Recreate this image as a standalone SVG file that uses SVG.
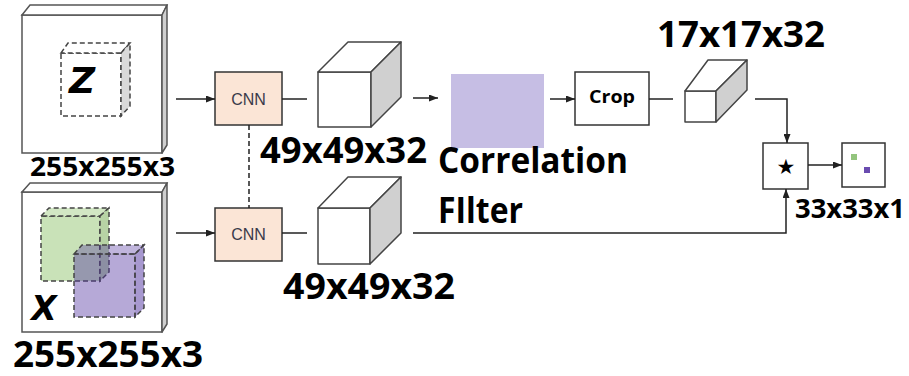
<svg xmlns="http://www.w3.org/2000/svg" width="909" height="376" viewBox="0 0 909 376">
  <style>
    .frame { fill: #ffffff; stroke: #555555; stroke-width: 1.5; }
    .frameSide { fill: #cfcfcf; stroke: #555555; stroke-width: 1.5; stroke-linejoin: round; }
    .dash { stroke: #444444; stroke-width: 1.5; stroke-dasharray: 5 3; }
    .cnn { fill: #fbe5d6; stroke: #333333; stroke-width: 1.5; }
    .box { fill: #ffffff; stroke: #333333; stroke-width: 1.5; }
    .cubeFront { fill: #ffffff; stroke: #444444; stroke-width: 1.5; stroke-linejoin: round; }
    .cubeSide { fill: #d0d0d0; stroke: #444444; stroke-width: 1.5; stroke-linejoin: round; }
    .conn { fill: none; stroke: #222222; stroke-width: 1.5; }
    .lbl { font-family: "Open Sans", "DejaVu Sans", sans-serif; font-weight: bold; fill: #000000; }
    .cnnTxt { font-family: "Liberation Sans", Arial, sans-serif; font-size: 16px; fill: #3a3a4a; text-anchor: middle; }
    .letter { font-family: "DejaVu Sans", "Liberation Sans", sans-serif; font-weight: bold; font-style: italic; fill: #000000; }
  </style>
  <defs>
    <marker id="arrow" markerUnits="userSpaceOnUse" markerWidth="9" markerHeight="7" refX="9" refY="3.5" orient="auto">
      <path d="M0,0 L9,3.5 L0,7 Z" fill="#222222"/>
    </marker>
  </defs>

  <!-- exemplar image z -->
  <g id="input-z">
    <rect class="frame" x="22" y="15" width="140" height="138"/>
    <polygon class="frame" points="22,15 30,5 167,5 162,15"/>
    <polygon class="frameSide" points="162,15 167,5 167,145 162,153"/>
    <rect x="61" y="53" width="60" height="63" fill="#ffffff" class="dash"/>
    <polygon points="61,53 68,43 130,43 121,53" fill="#ffffff" class="dash"/>
    <polygon points="121,53 130,43 130,106 121,116" fill="#d9d9d9" class="dash"/>
    <text class="letter" x="82" y="93" font-size="36" text-anchor="middle">Z</text>
    <text class="lbl" x="30" y="176" font-size="26" textLength="145" lengthAdjust="spacingAndGlyphs">255x255x3</text>
  </g>

  <!-- search image x -->
  <g id="input-x">
    <rect class="frame" x="22" y="192" width="140" height="140"/>
    <polygon class="frame" points="22,192 30,183 167,183 162,192"/>
    <polygon class="frameSide" points="162,192 167,183 167,324 162,332"/>
    <!-- green window -->
    <rect x="41" y="216" width="59" height="65" fill="#c9e2b8" class="dash"/>
    <polygon points="41,216 49,208 109,208 100,216" fill="#d2e7c4" class="dash"/>
    <polygon points="100,216 109,208 109,272 100,281" fill="#b7d3a5" class="dash"/>
    <!-- purple window -->
    <rect x="74" y="254" width="61" height="63" fill="#50329f" fill-opacity="0.42" class="dash"/>
    <polygon points="74,254 82,245 144,245 135,254" fill="#50329f" fill-opacity="0.36" class="dash"/>
    <polygon points="135,254 144,245 144,308 135,317" fill="#50329f" fill-opacity="0.5" class="dash"/>
    <text class="letter" x="44" y="320" font-size="33" text-anchor="middle">X</text>
    <text class="lbl" x="13" y="367" font-size="35" textLength="190" lengthAdjust="spacingAndGlyphs">255x255x3</text>
  </g>

  <!-- shared backbone -->
  <g id="cnn-top">
    <rect class="cnn" x="215" y="72" width="67" height="53"/>
    <text class="cnnTxt" x="248.5" y="105">CNN</text>
  </g>
  <g id="cnn-bottom">
    <rect class="cnn" x="215" y="208" width="67" height="53"/>
    <text class="cnnTxt" x="248.5" y="240">CNN</text>
  </g>

  <!-- feature maps -->
  <g id="feat-z">
    <rect class="cubeFront" x="318" y="72" width="53" height="55"/>
    <polygon class="cubeFront" points="318,72 348,42 401,42 371,72"/>
    <polygon class="cubeSide" points="371,72 401,42 401,97 371,127"/>
    <text class="lbl" x="260" y="163" font-size="35" textLength="167" lengthAdjust="spacingAndGlyphs">49x49x32</text>
  </g>
  <g id="feat-x">
    <rect class="cubeFront" x="318" y="208" width="52" height="56"/>
    <polygon class="cubeFront" points="318,208 348,177 401,177 370,208"/>
    <polygon class="cubeSide" points="370,208 401,177 401,233 370,264"/>
    <text class="lbl" x="283" y="299" font-size="35" textLength="172" lengthAdjust="spacingAndGlyphs">49x49x32</text>
  </g>

  <!-- correlation filter -->
  <g id="corr-filter">
    <rect x="451" y="74" width="93" height="74" fill="#c6bee4"/>
    <text class="lbl" x="438" y="173" font-size="35" textLength="190" lengthAdjust="spacingAndGlyphs">Correlation</text>
    <text class="lbl" x="438" y="223" font-size="35" textLength="85" lengthAdjust="spacingAndGlyphs">FIlter</text>
  </g>

  <g id="crop">
    <rect class="box" x="575" y="72" width="74" height="53"/>
    <text class="lbl" x="612" y="103" font-size="18" text-anchor="middle" textLength="46" lengthAdjust="spacingAndGlyphs">Crop</text>
  </g>

  <g id="feat-crop">
    <rect class="cubeFront" x="685" y="91" width="31" height="31"/>
    <polygon class="cubeFront" points="685,91 708,60 747,60 716,91"/>
    <polygon class="cubeSide" points="716,91 747,60 747,90 716,122"/>
    <text class="lbl" x="657" y="47" font-size="35" textLength="168" lengthAdjust="spacingAndGlyphs">17x17x32</text>
  </g>

  <g id="xcorr">
    <rect class="box" x="763" y="143" width="45" height="46"/>
    <text x="786" y="174" font-family="DejaVu Sans, sans-serif" font-size="21" text-anchor="middle" fill="#000000">★</text>
  </g>

  <g id="response">
    <rect class="box" x="842" y="143" width="43" height="44"/>
    <rect x="851" y="154" width="6" height="6" fill="#93c47d"/>
    <rect x="864" y="167" width="6" height="6" fill="#6a4bb0"/>
    <text class="lbl" x="795" y="218" font-size="27" textLength="110" lengthAdjust="spacingAndGlyphs">33x33x1</text>
  </g>

  <!-- connectors -->
  <g id="connectors">
    <line class="conn" x1="176" y1="99" x2="215" y2="99" marker-end="url(#arrow)"/>
    <line class="conn" x1="282" y1="99" x2="307" y2="99"/>
    <line class="conn" x1="413" y1="98" x2="438" y2="98" marker-end="url(#arrow)"/>
    <line class="conn" x1="550" y1="99" x2="575" y2="99" marker-end="url(#arrow)"/>
    <line class="conn" x1="649" y1="99" x2="673" y2="99"/>
    <polyline class="conn" points="755,99 787,99 787,143" marker-end="url(#arrow)"/>
    <line class="conn" x1="176" y1="233" x2="215" y2="233" marker-end="url(#arrow)"/>
    <line class="conn" x1="282" y1="233" x2="307" y2="233"/>
    <polyline class="conn" points="413,233 786,233 786,189" marker-end="url(#arrow)"/>
    <line class="conn" x1="808" y1="165" x2="842" y2="165" marker-end="url(#arrow)"/>
    <line class="conn" x1="249" y1="125" x2="249" y2="208" stroke-dasharray="5 3"/>
  </g>
</svg>
